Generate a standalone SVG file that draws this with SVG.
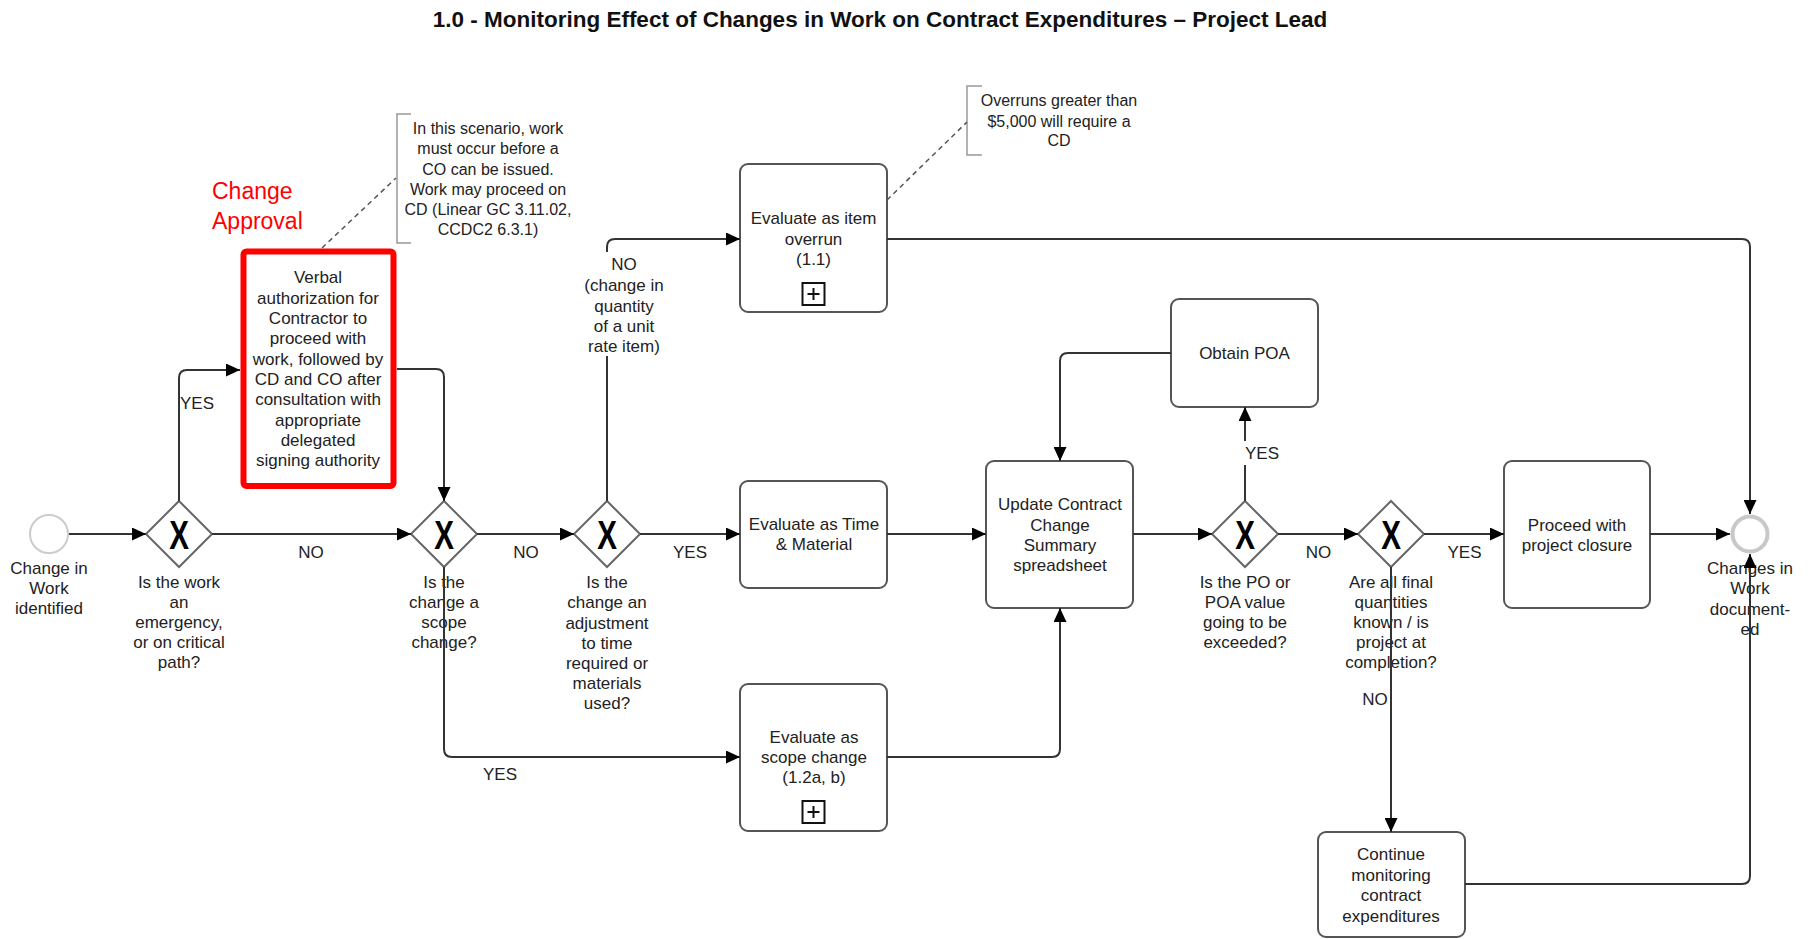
<svg xmlns="http://www.w3.org/2000/svg" width="1813" height="939" viewBox="0 0 1813 939">
<defs>
<style>
.t{font-family:"Liberation Sans",Arial,sans-serif;font-size:17px;fill:#222;text-anchor:middle}
.a{font-family:"Liberation Sans",Arial,sans-serif;font-size:16px;fill:#222;text-anchor:middle}
.box{fill:#fff;stroke:#555;stroke-width:2}
.gw{fill:#fff;stroke:#666;stroke-width:2}
.gx{font-family:"Liberation Sans",Arial,sans-serif;font-size:40px;font-weight:bold;fill:#000;text-anchor:middle}
.c{fill:none;stroke:#333;stroke-width:2;marker-end:url(#arr)}
.br{fill:none;stroke:#999;stroke-width:1.5}
.dash{fill:none;stroke:#555;stroke-width:1.5;stroke-dasharray:5 4}
.bg{fill:#fff}
</style>
<marker id="arr" viewBox="0 0 14 13" refX="14" refY="6.5" markerWidth="14" markerHeight="13" markerUnits="userSpaceOnUse" orient="auto"><path d="M0,0 L14,6.5 L0,13 z" fill="#000"/></marker>
</defs>
<rect x="0" y="0" width="1813" height="939" fill="#fff"/>
<text x="880" y="27" style="font-family:'Liberation Sans',Arial,sans-serif;font-size:22.5px;font-weight:bold;fill:#111;text-anchor:middle">1.0 - Monitoring Effect of Changes in Work on Contract Expenditures – Project Lead</text>

<g id="start">
<circle cx="49" cy="534" r="19" fill="#fff" stroke="#ccc" stroke-width="2"/>
<text class="t" x="49" y="574">Change in</text>
<text class="t" x="49" y="594">Work</text>
<text class="t" x="49" y="614">identified</text>
</g>

<g id="gw1">
<polygon class="gw" points="179,501 212,534 179,567 146,534"/>
<text class="gx" transform="translate(179,548.5) scale(0.74,1)">X</text>
<text class="t" x="179" y="588">Is the work</text>
<text class="t" x="179" y="608">an</text>
<text class="t" x="179" y="628">emergency,</text>
<text class="t" x="179" y="648">or on critical</text>
<text class="t" x="179" y="668">path?</text>
</g>

<g id="changeApproval">
<text x="212" y="199" style="font-family:'Liberation Sans',Arial,sans-serif;font-size:23px;fill:#ff0000">Change</text>
<text x="212" y="229" style="font-family:'Liberation Sans',Arial,sans-serif;font-size:23px;fill:#ff0000">Approval</text>
</g>

<g id="verbal">
<rect x="243.5" y="251.5" width="150" height="234.5" rx="3" fill="#fff" stroke="#ff0000" stroke-width="6"/>
<text class="t" x="318" y="283">Verbal</text>
<text class="t" x="318" y="303.5">authorization for</text>
<text class="t" x="318" y="324">Contractor to</text>
<text class="t" x="318" y="344">proceed with</text>
<text class="t" x="318" y="364.5">work, followed by</text>
<text class="t" x="318" y="385">CD and CO after</text>
<text class="t" x="318" y="405">consultation with</text>
<text class="t" x="318" y="426">appropriate</text>
<text class="t" x="318" y="446">delegated</text>
<text class="t" x="318" y="466">signing authority</text>
</g>

<g id="note1">
<path class="br" d="M411,114 H397 V243 H411"/>
<path class="dash" d="M322,248 L396,178"/>
<text class="a" x="488" y="134">In this scenario, work</text>
<text class="a" x="488" y="154">must occur before a</text>
<text class="a" x="488" y="174.5">CO can be issued.</text>
<text class="a" x="488" y="194.5">Work may proceed on</text>
<text class="a" x="488" y="215">CD (Linear GC 3.11.02,</text>
<text class="a" x="488" y="235">CCDC2 6.3.1)</text>
</g>

<g id="gw2">
<polygon class="gw" points="444,501 477,534 444,567 411,534"/>
<text class="gx" transform="translate(444,548.5) scale(0.74,1)">X</text>
<text class="t" x="444" y="588">Is the</text>
<text class="t" x="444" y="608">change a</text>
<text class="t" x="444" y="628">scope</text>
<text class="t" x="444" y="648">change?</text>
</g>

<g id="gw3">
<polygon class="gw" points="607,501 640,534 607,567 574,534"/>
<text class="gx" transform="translate(607,548.5) scale(0.74,1)">X</text>
<text class="t" x="607" y="588">Is the</text>
<text class="t" x="607" y="608">change an</text>
<text class="t" x="607" y="629">adjustment</text>
<text class="t" x="607" y="649">to time</text>
<text class="t" x="607" y="669">required or</text>
<text class="t" x="607" y="689">materials</text>
<text class="t" x="607" y="709">used?</text>
</g>

<g id="overrun">
<rect class="box" x="740" y="164" width="147" height="148" rx="8"/>
<text class="t" x="813.5" y="224">Evaluate as item</text>
<text class="t" x="813.5" y="245">overrun</text>
<text class="t" x="813.5" y="265">(1.1)</text>
<rect x="802.5" y="283" width="22" height="22" fill="#fff" stroke="#111" stroke-width="2"/>
<path d="M807.5,294 H819.5 M813.5,288 V300" stroke="#111" stroke-width="2"/>
</g>

<g id="note2">
<path class="br" d="M982,86 H967 V155 H982"/>
<path class="dash" d="M887,200 L967,122"/>
<text class="a" x="1059" y="106">Overruns greater than</text>
<text class="a" x="1059" y="126.5">$5,000 will require a</text>
<text class="a" x="1059" y="146">CD</text>
</g>

<g id="tm">
<rect class="box" x="740" y="481" width="147" height="107" rx="8"/>
<text class="t" x="814" y="530">Evaluate as Time</text>
<text class="t" x="814" y="550">&amp; Material</text>
</g>

<g id="scope">
<rect class="box" x="740" y="684" width="147" height="147" rx="8"/>
<text class="t" x="814" y="742.5">Evaluate as</text>
<text class="t" x="814" y="762.5">scope change</text>
<text class="t" x="814" y="783">(1.2a, b)</text>
<rect x="802.5" y="801" width="22" height="22" fill="#fff" stroke="#111" stroke-width="2"/>
<path d="M807.5,812 H819.5 M813.5,806 V818" stroke="#111" stroke-width="2"/>
</g>

<g id="update">
<rect class="box" x="986" y="461" width="147" height="147" rx="8"/>
<text class="t" x="1060" y="510">Update Contract</text>
<text class="t" x="1060" y="531">Change</text>
<text class="t" x="1060" y="551">Summary</text>
<text class="t" x="1060" y="571">spreadsheet</text>
</g>

<g id="poa">
<rect class="box" x="1171" y="299" width="147" height="108" rx="8"/>
<text class="t" x="1244.5" y="358.5">Obtain POA</text>
</g>

<g id="gw4">
<polygon class="gw" points="1245,501 1278,534 1245,567 1212,534"/>
<text class="gx" transform="translate(1245,548.5) scale(0.74,1)">X</text>
<text class="t" x="1245" y="587.5">Is the PO or</text>
<text class="t" x="1245" y="607.5">POA value</text>
<text class="t" x="1245" y="628">going to be</text>
<text class="t" x="1245" y="648">exceeded?</text>
</g>

<g id="gw5">
<polygon class="gw" points="1391,501 1424,534 1391,567 1358,534"/>
<text class="gx" transform="translate(1391,548.5) scale(0.74,1)">X</text>
<text class="t" x="1391" y="587.5">Are all final</text>
<text class="t" x="1391" y="607.5">quantities</text>
<text class="t" x="1391" y="628">known / is</text>
<text class="t" x="1391" y="648">project at</text>
<text class="t" x="1391" y="668">completion?</text>
</g>

<g id="proceed">
<rect class="box" x="1504" y="461" width="146" height="147" rx="8"/>
<text class="t" x="1577" y="531">Proceed with</text>
<text class="t" x="1577" y="551">project closure</text>
</g>

<g id="continue">
<rect class="box" x="1318" y="832" width="147" height="105" rx="8"/>
<text class="t" x="1391" y="860">Continue</text>
<text class="t" x="1391" y="881">monitoring</text>
<text class="t" x="1391" y="901">contract</text>
<text class="t" x="1391" y="921.5">expenditures</text>
</g>

<g id="end">
<circle cx="1750" cy="534" r="17.5" fill="#fff" stroke="#c8c8c8" stroke-width="4"/>
<text class="t" x="1750" y="574">Changes in</text>
<text class="t" x="1750" y="594">Work</text>
<text class="t" x="1750" y="615">document-</text>
<text class="t" x="1750" y="635">ed</text>
</g>

<g id="connectors">
<path class="c" d="M69,534 H146"/>
<path class="c" d="M212,534 H411"/>
<path class="c" d="M179,501 V378 Q179,370 187,370 H240"/>
<path class="c" d="M397,369 H436 Q444,369 444,377 V501"/>
<path class="c" d="M477,534 H574"/>
<path class="c" d="M444,567 V749 Q444,757 452,757 H740"/>
<path class="c" d="M640,534 H740"/>
<path class="c" d="M607,501 V247 Q607,239 615,239 H740"/>
<path class="c" d="M887,239 H1742 Q1750,239 1750,247 V514"/>
<path class="c" d="M887,534 H986"/>
<path class="c" d="M887,757 H1052 Q1060,757 1060,749 V608"/>
<path class="c" d="M1171,353 H1068 Q1060,353 1060,361 V461"/>
<path class="c" d="M1133,534 H1212"/>
<path class="c" d="M1245,501 V407"/>
<path class="c" d="M1278,534 H1358"/>
<path class="c" d="M1424,534 H1504"/>
<path class="c" d="M1391,567 V832"/>
<path class="c" d="M1650,534 H1730"/>
<path class="c" d="M1465,884 H1742 Q1750,884 1750,876 V554"/>
<rect class="bg" x="180" y="391" width="34" height="24"/>
<text class="t" x="180" y="409" style="text-anchor:start">YES</text>
<text class="t" x="311" y="557.5">NO</text>
<text class="t" x="526" y="557.5">NO</text>
<text class="t" x="500" y="780">YES</text>
<text class="t" x="690" y="557.5">YES</text>
<rect class="bg" x="590" y="252" width="68" height="104"/>
<text class="t" x="624" y="270">NO</text>
<text class="t" x="624" y="291">(change in</text>
<text class="t" x="624" y="312">quantity</text>
<text class="t" x="624" y="332">of a unit</text>
<text class="t" x="624" y="352">rate item)</text>
<rect class="bg" x="1244" y="441" width="37" height="24"/>
<text class="t" x="1262" y="458.5">YES</text>
<text class="t" x="1318.5" y="557.5">NO</text>
<text class="t" x="1464.5" y="557.5">YES</text>
<text class="t" x="1375" y="705">NO</text>
</g>
</svg>
